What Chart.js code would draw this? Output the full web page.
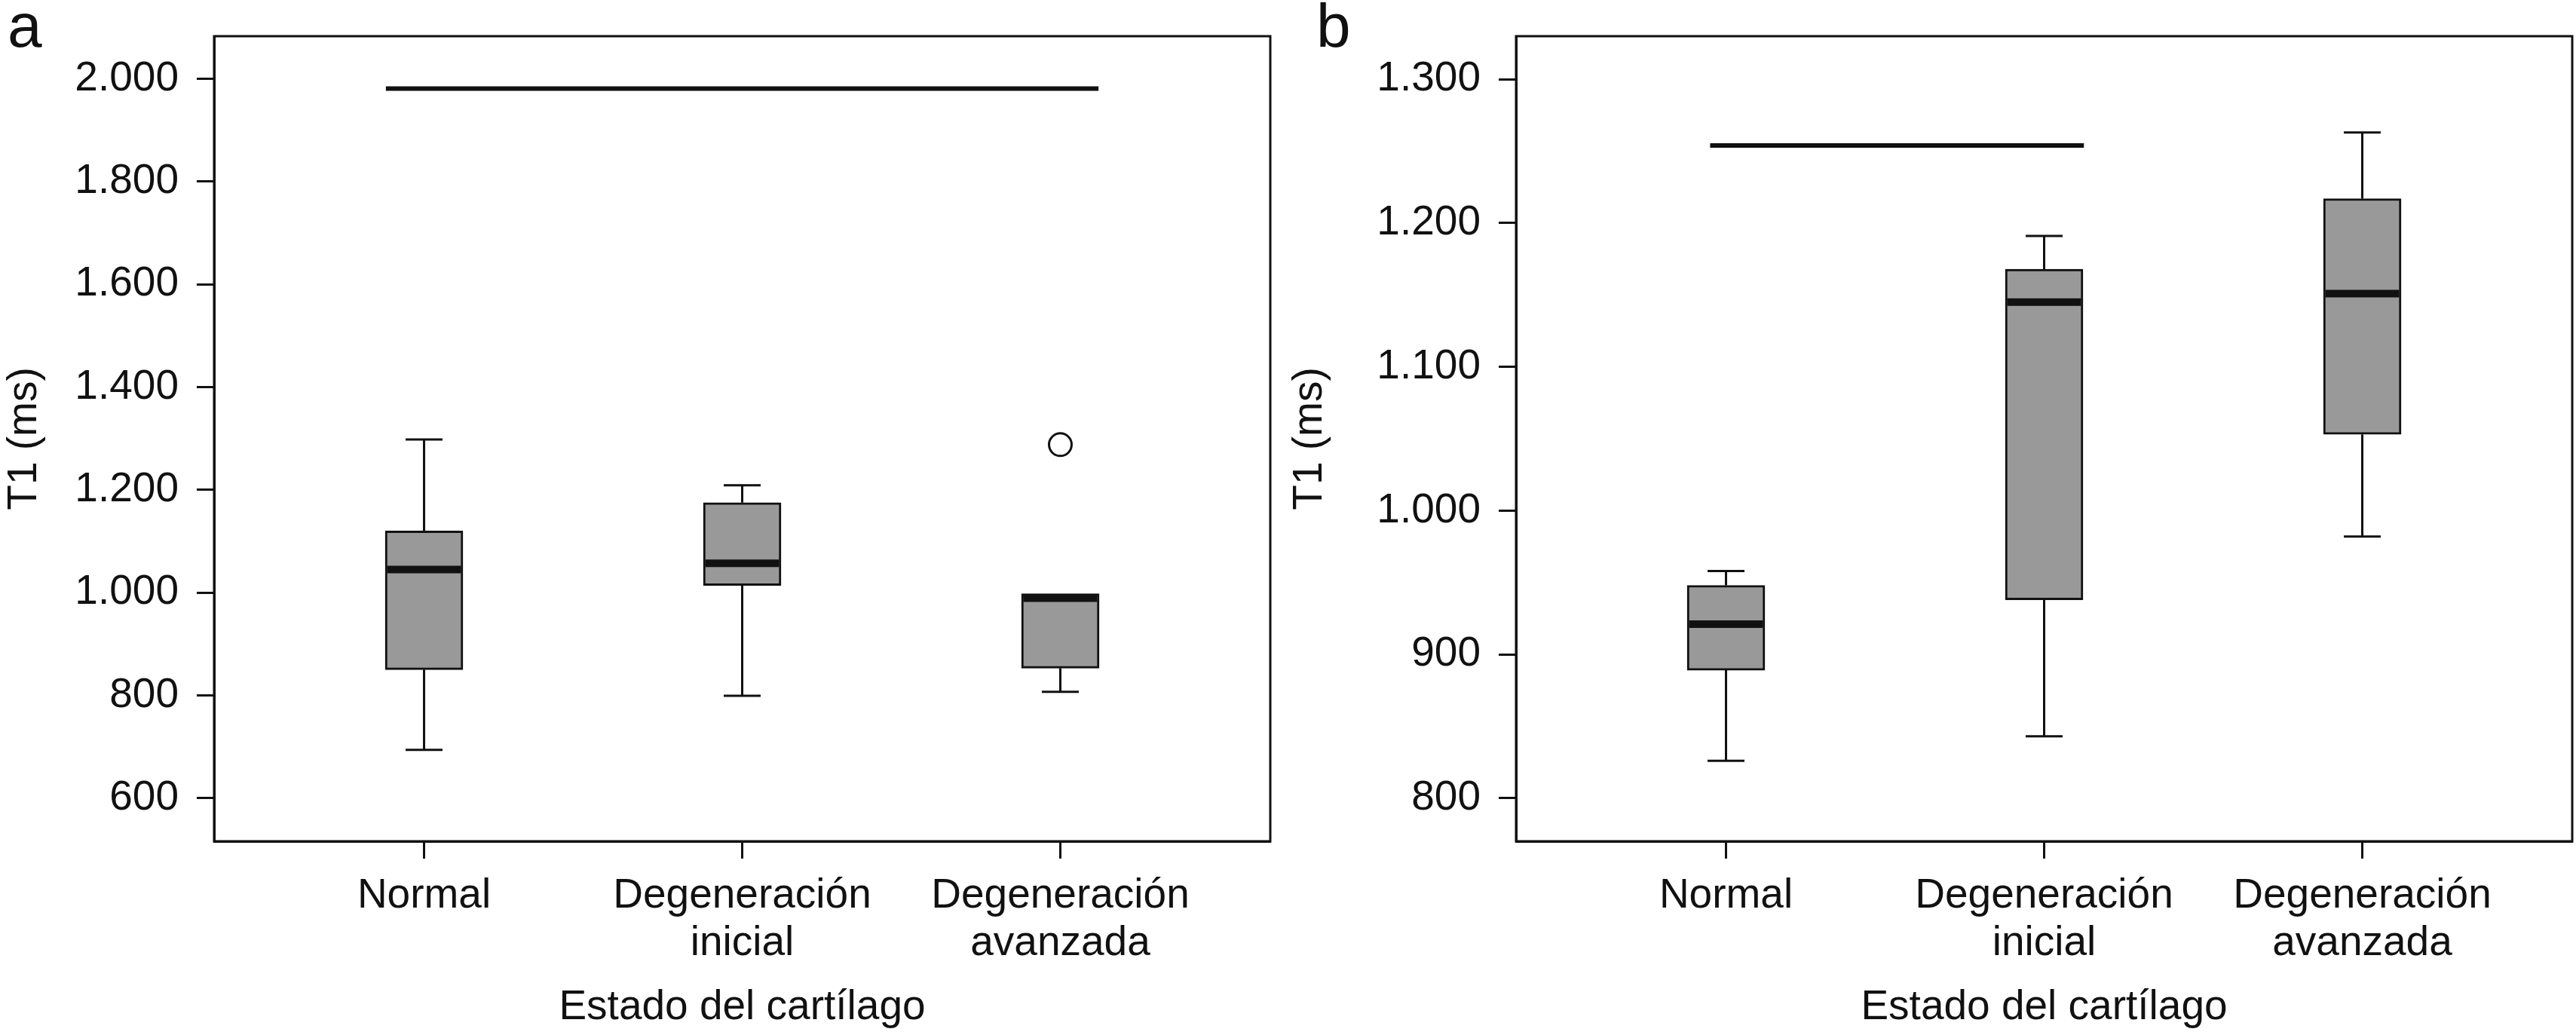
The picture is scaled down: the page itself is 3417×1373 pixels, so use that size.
<!DOCTYPE html>
<html>
<head>
<meta charset="utf-8">
<script src="https://cdn.jsdelivr.net/npm/chart.js@4.4.1/dist/chart.umd.min.js"></script>
<style>
  html, body { margin: 0; padding: 0; background: #fff; }
  body { width: 3417px; height: 1373px; position: relative; overflow: hidden; font-family: "Liberation Sans", Arial, sans-serif; }
  .panel { position: absolute; top: 0; height: 1373px; }
  .letter { position: absolute; top: -7px; font-size: 82px; line-height: 1; color: #111; }
</style>
</head>
<body>
<div class="panel" style="left:0;width:1705px"><canvas id="chartA" width="1705" height="1373"></canvas></div>
<div class="panel" style="left:1705px;width:1712px"><canvas id="chartB" width="1712" height="1373"></canvas></div>
<div class="letter" style="left:10px">a</div>
<div class="letter" style="left:1746px">b</div>
<script>
// categorias del eje x
const categories = ["Normal", ["Degeneración", "inicial"], ["Degeneración", "avanzada"]];

// panel a
const aMin = [694, 799, 807];
const aQ1 = [850, 1014, 853];
const aMedian = [1045, 1057, 989];
const aQ3 = [1120, 1175, 998];
const aMax = [1298, 1209, 998];
const aOutliers = [[], [], [1288]];
const aSigSpan = [0.88, 3.12];
const aSigValue = 1981;
const aTicks = [600, 800, 1000, 1200, 1400, 1600, 1800, 2000];

// panel b
const bMin = [826, 843, 982];
const bQ1 = [889, 938, 1053];
const bMedian = [921, 1145, 1151];
const bQ3 = [948, 1168, 1217];
const bMax = [958, 1191, 1263];
const bOutliers = [[], [], []];
const bSigSpan = [0.95, 2.125];
const bSigValue = 1254;
const bTicks = [800, 900, 1000, 1100, 1200, 1300];

const INK = "#111";
const BOX_HALF = 0.12;
const CAP_HALF = 0.058;
const FONT = "'Liberation Sans', Arial, sans-serif";

function fmt(v) {
  return String(v).replace(/\B(?=(\d{3})+(?!\d))/g, ".");
}

const framePlugin = {
  id: "frame",
  afterDraw(chart) {
    const { ctx, chartArea: a } = chart;
    ctx.save();
    ctx.strokeStyle = INK;
    ctx.lineWidth = 3;
    ctx.strokeRect(a.left, a.top, a.right - a.left, a.bottom - a.top);
    ctx.restore();
  }
};

function makeChart(id, s) {
  const pos = categories.map((c, i) => i + 1);
  const boxes = pos.map((x, i) => ({ x: x, y: [s.q1[i], s.q3[i]] }));
  const whiskers = [];
  const caps = [];
  const medians = [];
  pos.forEach((x, i) => {
    whiskers.push({ x: x, y: s.min[i] }, { x: x, y: s.q1[i] }, { x: x, y: null });
    caps.push({ x: x - CAP_HALF, y: s.min[i] }, { x: x + CAP_HALF, y: s.min[i] }, { x: x, y: null });
    if (s.max[i] > s.q3[i]) {
      whiskers.push({ x: x, y: s.q3[i] }, { x: x, y: s.max[i] }, { x: x, y: null });
      caps.push({ x: x - CAP_HALF, y: s.max[i] }, { x: x + CAP_HALF, y: s.max[i] }, { x: x, y: null });
    }
    medians.push({ x: x - BOX_HALF + 0.004, y: s.median[i] }, { x: x + BOX_HALF - 0.004, y: s.median[i] }, { x: x, y: null });
  });
  const outliers = [];
  pos.forEach((x, i) => s.outliers[i].forEach(v => outliers.push({ x: x, y: v })));
  const sig = [{ x: s.sigSpan[0], y: s.sigValue }, { x: s.sigSpan[1], y: s.sigValue }];

  const lineBase = { type: "line", pointRadius: 0, borderColor: INK, spanGaps: false, borderCapStyle: "butt", tension: 0 };

  return new Chart(document.getElementById(id), {
    type: "bar",
    data: {
      datasets: [
        { ...lineBase, data: medians, borderWidth: 10, order: 0 },
        { ...lineBase, data: sig, borderWidth: 6, order: 0 },
        { type: "scatter", data: outliers, pointRadius: 15, pointBorderWidth: 3, pointBorderColor: INK, pointBackgroundColor: "#fff", order: 0 },
        { type: "bar", data: boxes, backgroundColor: "#999999", borderColor: INK, borderWidth: 3, borderSkipped: false, barThickness: 103, order: 1 },
        { ...lineBase, data: whiskers, borderWidth: 3, order: 2 },
        { ...lineBase, data: caps, borderWidth: 3, order: 2 }
      ]
    },
    options: {
      responsive: false,
      animation: false,
      devicePixelRatio: 1,
      layout: { padding: { left: 0, top: 48, right: s.padRight, bottom: 0 } },
      plugins: { legend: { display: false }, tooltip: { enabled: false } },
      scales: {
        x: {
          type: "linear",
          min: 0.34,
          max: 3.66,
          offset: false,
          afterBuildTicks: sc => { sc.ticks = pos.map(v => ({ value: v })); },
          afterFit: sc => { sc.height = 1373 - 1116; sc.paddingLeft = 0; sc.paddingRight = 0; },
          ticks: {
            autoSkip: false, maxRotation: 0, minRotation: 0, padding: 18, color: INK,
            font: { family: FONT, size: 55, lineHeight: 1.15 },
            callback: (v, i) => categories[i]
          },
          grid: { drawOnChartArea: false, drawTicks: true, tickLength: 23, tickWidth: 3, tickColor: INK, offset: false },
          border: { display: true, width: 3, color: INK },
          title: { display: true, text: "Estado del cartílago", color: INK, font: { family: FONT, size: 55, lineHeight: 1.2 }, padding: { top: 0, bottom: 3 } }
        },
        y: {
          min: s.yMin,
          max: s.yMax,
          afterBuildTicks: sc => { sc.ticks = s.ticks.map(v => ({ value: v })); },
          afterFit: sc => { sc.width = s.axisWidth; sc.paddingTop = 0; sc.paddingBottom = 0; },
          ticks: { padding: 24, color: INK, font: { family: FONT, size: 55 }, callback: v => fmt(v) },
          grid: { drawOnChartArea: false, drawTicks: true, tickLength: 23, tickWidth: 3, tickColor: INK },
          border: { display: true, width: 3, color: INK },
          title: { display: true, text: "T1 (ms)", color: INK, font: { family: FONT, size: 55, lineHeight: 1.2 }, padding: { top: 0, bottom: 0 } }
        }
      }
    },
    plugins: [framePlugin]
  });
}

makeChart("chartA", {
  min: aMin, q1: aQ1, median: aMedian, q3: aQ3, max: aMax, outliers: aOutliers,
  sigSpan: aSigSpan, sigValue: aSigValue, ticks: aTicks,
  yMin: 516, yMax: 2083, axisWidth: 284, padRight: 20
});

makeChart("chartB", {
  min: bMin, q1: bQ1, median: bMedian, q3: bQ3, max: bMax, outliers: bOutliers,
  sigSpan: bSigSpan, sigValue: bSigValue, ticks: bTicks,
  yMin: 770, yMax: 1330, axisWidth: 306, padRight: 5
});
</script>
</body>
</html>
